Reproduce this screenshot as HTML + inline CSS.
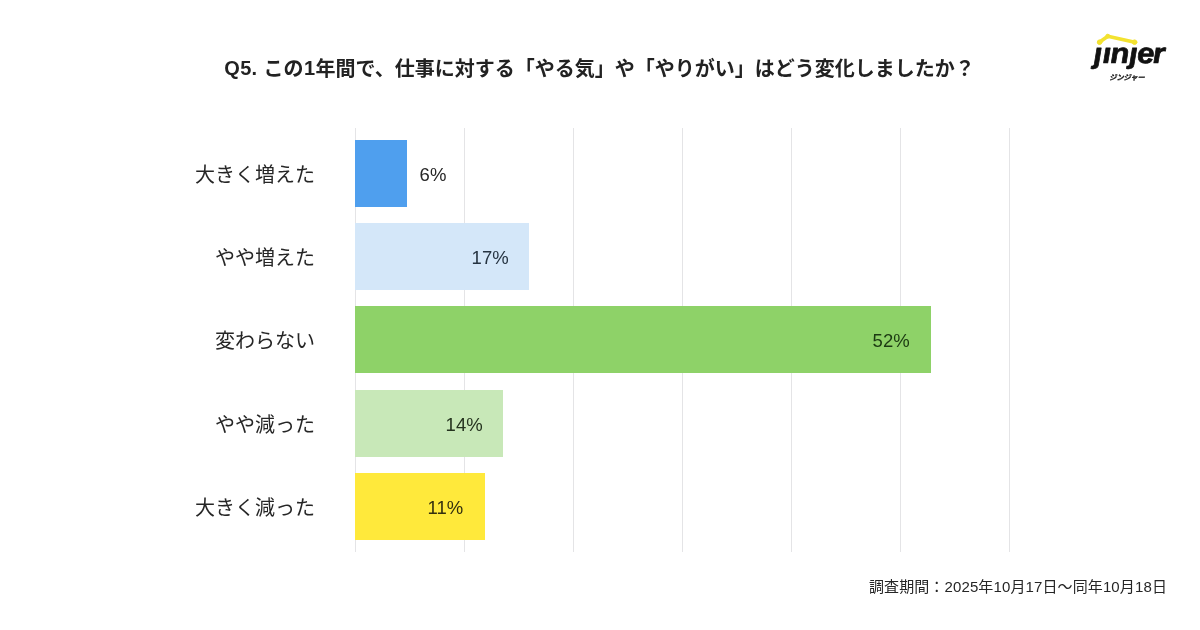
<!DOCTYPE html>
<html lang="ja">
<head>
<meta charset="utf-8">
<title>Q5</title>
<style>
html,body{margin:0;padding:0;background:#fff;}
body{width:1200px;height:630px;position:relative;overflow:hidden;font-family:"Liberation Sans","Noto Sans CJK JP",sans-serif;color:#262626;}
.abs{position:absolute;}
.title{left:0;width:1199px;top:49px;height:40px;line-height:40px;text-align:center;font-size:20px;font-weight:700;color:#222;white-space:nowrap;}
.lt{position:relative;top:-1px;}
.grid{top:128px;width:1px;height:424px;background:#e4e4e6;}
.bar{left:355px;height:67px;}
.cat{transform:translateY(0.4px);left:101px;width:214px;height:67px;line-height:71px;text-align:right;font-size:20px;color:#262626;white-space:nowrap;}
.val{height:67px;line-height:67px;transform:translate(-0.4px,0.6px);z-index:3;font-size:18.5px;margin-left:1px;color:#262626;white-space:nowrap;}
.foot{right:33px;letter-spacing:0.12px;top:575px;height:24px;line-height:24px;font-size:15px;color:#262626;white-space:nowrap;text-align:right;}
</style>
</head>
<body>
<div class="abs title"><span class="lt" style="letter-spacing:0.33px">Q5. </span>この<span class="lt" style="padding:0 0.5px">1</span>年間で、仕事に対する「やる気」や「やりがい」はどう変化しましたか？</div>

<div class="abs grid" style="left:355px"></div>
<div class="abs grid" style="left:464px"></div>
<div class="abs grid" style="left:573px"></div>
<div class="abs grid" style="left:682px"></div>
<div class="abs grid" style="left:791px"></div>
<div class="abs grid" style="left:900px"></div>
<div class="abs grid" style="left:1009px"></div>

<div class="abs bar" style="top:140px;width:52px;background:#4f9fee"></div>
<div class="abs bar" style="top:223px;width:174px;background:#d4e7f9"></div>
<div class="abs bar" style="top:306px;width:576px;background:#8ed268"></div>
<div class="abs bar" style="top:390px;width:148px;background:#c8e8b8"></div>
<div class="abs bar" style="top:473px;width:130px;background:#ffe93b"></div>

<div class="abs cat" style="top:140px">大きく増えた</div>
<div class="abs cat" style="top:223px">やや増えた</div>
<div class="abs cat" style="top:306px">変わらない</div>
<div class="abs cat" style="top:390px">やや減った</div>
<div class="abs cat" style="top:473px">大きく減った</div>

<div class="abs val" style="top:140px;left:419px">6%</div>
<div class="abs val" style="top:223px;left:471px;color:#263442">17%</div>
<div class="abs val" style="top:306px;left:872px;color:#1c3a12">52%</div>
<div class="abs val" style="top:390px;left:445px;color:#25331f">14%</div>
<div class="abs val" style="top:473px;left:427px;color:#33300f">11%</div>

<div class="abs foot">調査期間：2025年10月17日～同年10月18日</div>

<svg class="abs" style="left:1070px;top:25px" width="120" height="70" viewBox="1070 25 120 70">
  <g fill="#f3e230" stroke="#f3e230" stroke-linecap="round" stroke-linejoin="round">
    <path d="M1099.4 42.3 L1107.8 36.3 L1134.8 42.3" fill="none" stroke-width="3.6"/>
    <circle cx="1099.6" cy="42.2" r="2.3"/>
    <circle cx="1107.8" cy="36.2" r="2"/>
    <circle cx="1134.6" cy="42.2" r="2.3"/>
  </g>
  <clipPath id="nodots"><rect x="1070" y="47.1" width="120" height="40"/></clipPath>
  <g clip-path="url(#nodots)">
    <text transform="translate(1091.3 63.3) scale(1.085 1) skewX(2.5)" x="2.6 10.9 17.9 35.1 42.5 57.0" y="0" font-family="Liberation Sans, sans-serif" font-weight="700" font-style="italic" font-size="28.6" fill="#111" stroke="#111" stroke-width="0.7" stroke-linejoin="round">jinjer</text>
  </g>
  <text x="1127" y="79.5" text-anchor="middle" font-family="Liberation Sans, Noto Sans CJK JP, sans-serif" font-weight="700" font-style="italic" font-size="7.2" fill="#111" stroke="#111" stroke-width="0.25">ジンジャー</text>
</svg>
</body>
</html>
